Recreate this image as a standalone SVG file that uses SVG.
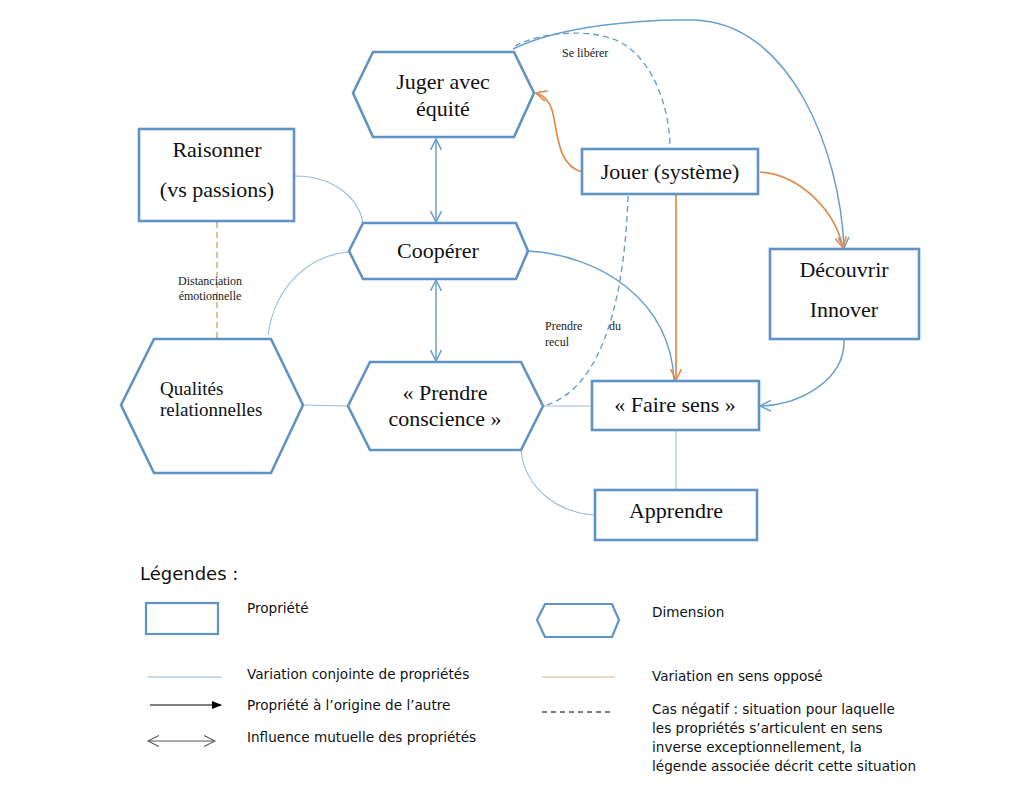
<svg xmlns="http://www.w3.org/2000/svg" width="1024" height="812" viewBox="0 0 1024 812">
<style>
.node{fill:#fff;stroke:#5f93c3;stroke-width:2.6}
.lbl{font-family:"Liberation Serif",serif;font-size:22px;fill:#111;text-anchor:middle}
.lbl2{font-family:"Liberation Serif",serif;font-size:19px;fill:#111}
.sm{font-family:"Liberation Serif",serif;font-size:12px;fill:#222}
.thin{fill:none;stroke:#9dbcd3;stroke-width:1.1}
.blue{fill:none;stroke:#6a9fcc;stroke-width:1.5}
.orange{fill:none;stroke:#e08b4c;stroke-width:1.7}
.dash{fill:none;stroke:#6a9fcc;stroke-width:1.4;stroke-dasharray:6 4}
.leg{font-family:"DejaVu Sans",sans-serif;font-size:13.6px;fill:#111}
</style>
<defs>
<marker id="ab" viewBox="0 0 12 12" refX="11" refY="6" markerWidth="13" markerHeight="13" markerUnits="userSpaceOnUse" orient="auto-start-reverse"><path d="M1,1 L11,6 L1,11" fill="none" stroke="#6a9fcc" stroke-width="1.4"/></marker>
<marker id="ao" viewBox="0 0 12 12" refX="11" refY="6" markerWidth="13" markerHeight="13" markerUnits="userSpaceOnUse" orient="auto-start-reverse"><path d="M1,1 L11,6 L1,11" fill="none" stroke="#e08b4c" stroke-width="1.5"/></marker>
<marker id="ak" viewBox="0 0 10 10" refX="9" refY="5" markerWidth="10" markerHeight="10" markerUnits="userSpaceOnUse" orient="auto"><path d="M0,1 L10,5 L0,9 Z" fill="#000"/></marker>
<marker id="ag" viewBox="0 0 12 12" refX="11" refY="6" markerWidth="13" markerHeight="13" markerUnits="userSpaceOnUse" orient="auto-start-reverse"><path d="M1,1 L11,6 L1,11" fill="none" stroke="#555" stroke-width="1"/></marker>
</defs>

<g id="connectors">
<path class="blue" d="M513,49 C560,26 640,19 693,20 C790,22 840,150 844,248" marker-end="url(#ab)"/>
<path class="dash" d="M515,46 C545,30 600,28 625,45 C655,65 670,110 670,149"/>
<path class="orange" d="M582,172 C556,165 558,130 552,110 C549,100 543,95 536,93" marker-end="url(#ao)"/>
<path class="orange" d="M760,172 C800,175 835,210 843,248" marker-end="url(#ao)"/>
<path class="blue" d="M528,251 C600,255 670,300 674,380"/>
<path class="orange" d="M676,194 L676,380" marker-end="url(#ao)"/>
<path class="blue" d="M844,340 C845,380 800,405 760,406" marker-end="url(#ab)"/>
<path class="dash" d="M628,196 C625,290 605,390 543,406"/>
<path class="blue" d="M436,139 L436,222" marker-start="url(#ab)" marker-end="url(#ab)"/>
<path class="blue" d="M436,280 L436,361" marker-start="url(#ab)" marker-end="url(#ab)"/>
<path class="thin" d="M295,176 C330,176 358,195 363,223"/>
<path class="thin" d="M268,335 C275,285 310,255 349,252"/>
<path class="thin" d="M521,450 C525,490 560,513 595,515"/>
<path class="thin" d="M303,405 L348,406"/>
<path class="thin" d="M543,406 L592,406"/>
<path class="thin" d="M676,430 L676,490"/>
<path d="M217,222 L217,338" fill="none" stroke="#d9a06a" stroke-width="1.4" stroke-dasharray="6 4"/>
<text class="sm" x="562" y="57">Se libérer</text>
<text class="sm" x="210" y="285" text-anchor="middle">Distanciation</text>
<text class="sm" x="210" y="300" text-anchor="middle">émotionnelle</text>
<text class="sm" x="545" y="330">Prendre</text>
<text class="sm" x="609" y="330">du</text>
<text class="sm" x="545" y="346">recul</text>
</g>

<g id="juger">
<polygon class="node" points="353,93 373,52 514,52 534,93 514,137 373,137"/>
<text class="lbl" x="443" y="89">Juger avec</text>
<text class="lbl" x="443" y="116">équité</text>
</g>
<g id="jouer">
<rect class="node" x="582" y="149" width="176" height="45"/>
<text class="lbl" x="670" y="179">Jouer (système)</text>
</g>
<g id="raisonner">
<rect class="node" x="139" y="129" width="155" height="92"/>
<text class="lbl" x="217" y="157">Raisonner</text>
<text class="lbl" x="217" y="197">(vs passions)</text>
</g>
<g id="cooperer">
<polygon class="node" points="349,251 363,223 516,223 528,251 516,279 363,279"/>
<text class="lbl" x="438" y="258">Coopérer</text>
</g>
<g id="decouvrir">
<rect class="node" x="770" y="249" width="149" height="90"/>
<text class="lbl" x="844" y="277">Découvrir</text>
<text class="lbl" x="844" y="317">Innover</text>
</g>
<g id="qualites">
<polygon class="node" points="121,405 154,339 271,339 303,405 271,473 154,473"/>
<text class="lbl2" x="160" y="395">Qualités</text>
<text class="lbl2" x="160" y="416">relationnelles</text>
</g>
<g id="prendre">
<polygon class="node" points="348,406 370,362 521,362 543,406 521,450 370,450"/>
<text class="lbl" x="445" y="400">« Prendre</text>
<text class="lbl" x="445" y="426">conscience »</text>
</g>
<g id="fairesens">
<rect class="node" x="592" y="381" width="167" height="49"/>
<text class="lbl" x="675" y="412">« Faire sens »</text>
</g>
<g id="apprendre">
<rect class="node" x="595" y="490" width="162" height="50"/>
<text class="lbl" x="676" y="518">Apprendre</text>
</g>

<g id="legend">
<text x="140" y="580" style="font-family:'DejaVu Sans',sans-serif;font-size:18px;fill:#111">Légendes :</text>
<rect x="146" y="603" width="72" height="31" fill="#fff" stroke="#5f93c3" stroke-width="2.2"/>
<text class="leg" x="247" y="613">Propriété</text>
<line x1="148" y1="677" x2="222" y2="677" stroke="#8fb3cf" stroke-width="1"/>
<text class="leg" x="247" y="679">Variation conjointe de propriétés</text>
<line x1="150" y1="705" x2="221" y2="705" stroke="#000" stroke-width="1" marker-end="url(#ak)"/>
<text class="leg" x="247" y="710">Propriété à l’origine de l’autre</text>
<line x1="148" y1="741" x2="215" y2="741" stroke="#555" stroke-width="1" marker-start="url(#ag)" marker-end="url(#ag)"/>
<text class="leg" x="247" y="742">Influence mutuelle des propriétés</text>
<polygon points="537,620 545,604 612,604 619,620 612,637 545,637" fill="#fff" stroke="#5f93c3" stroke-width="2.2"/>
<text class="leg" x="652" y="617">Dimension</text>
<line x1="542" y1="677" x2="615" y2="677" stroke="#d9b48f" stroke-width="1.2"/>
<text class="leg" x="652" y="681">Variation en sens opposé</text>
<line x1="542" y1="712" x2="612" y2="712" stroke="#000" stroke-width="1" stroke-dasharray="5 4"/>
<text class="leg" x="652" y="714">Cas négatif : situation pour laquelle</text>
<text class="leg" x="652" y="733">les propriétés s’articulent en sens</text>
<text class="leg" x="652" y="752">inverse exceptionnellement, la</text>
<text class="leg" x="652" y="771">légende associée décrit cette situation</text>
</g>
</svg>
